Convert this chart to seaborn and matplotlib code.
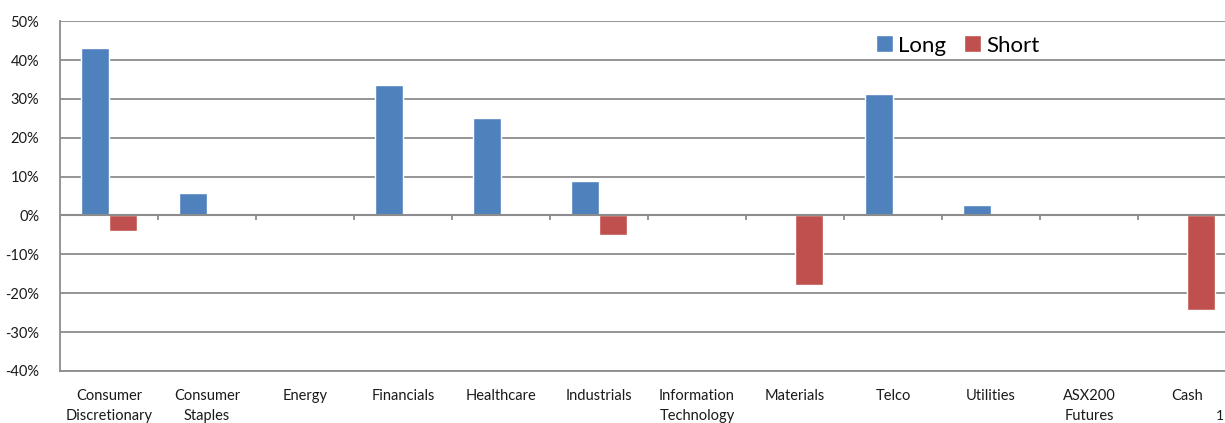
import matplotlib
matplotlib.use("Agg")
import matplotlib.pyplot as plt
import matplotlib.ticker as mticker
import pandas as pd
import seaborn as sns

sectors = ["Consumer\nDiscretionary", "Consumer\nStaples", "Energy", "Financials",
           "Healthcare", "Industrials", "Information\nTechnology", "Materials",
           "Telco", "Utilities", "ASX200\nFutures", "Cash"]
long_pct = [43.0, 5.7, 0.0, 33.5, 25.0, 8.8, 0.0, 0.0, 31.2, 2.6, 0.0, 0.0]
short_pct = [-3.9, 0.0, 0.0, 0.0, 0.0, -4.9, 0.0, -17.9, 0.0, 0.0, 0.0, -24.4]
y_ticks = [50, 40, 30, 20, 10, 0, -10, -20, -30, -40]

df = pd.DataFrame({
    "Sector": sectors * 2,
    "Exposure": long_pct + short_pct,
    "Side": ["Long"] * len(sectors) + ["Short"] * len(sectors),
})

sns.set_theme(style="white")
plt.rcParams["font.family"] = ["Lato", "DejaVu Sans"]

fig = plt.figure(figsize=(12.25, 4.23), dpi=100)
ax = fig.add_axes([0.049, 0.123, 0.960, 0.827])

sns.barplot(data=df, x="Sector", y="Exposure", hue="Side",
            palette={"Long": "#4F81BD", "Short": "#C0504D"},
            width=0.57, saturation=1, ax=ax, legend=True)

ax.set_ylim(-40, 50)
ax.set_xlim(-0.5, len(sectors) - 0.5)
ax.set_yticks(y_ticks)
ax.yaxis.set_major_formatter(mticker.FuncFormatter(lambda v, p: f"{v:.0f}%"))
ax.yaxis.grid(True, color="#8c8c8c", linewidth=1.3)
ax.xaxis.grid(False)
ax.set_axisbelow(True)
ax.set_xlabel("")
ax.set_ylabel("")

for side in ["top", "right"]:
    ax.spines[side].set_visible(False)
for side in ["left", "bottom"]:
    ax.spines[side].set_color("#8c8c8c")
    ax.spines[side].set_linewidth(1.3)

ax.tick_params(axis="y", length=0, pad=15, labelsize=10.5, labelcolor="#1a1a1a")
ax.tick_params(axis="x", length=0, pad=13, labelsize=10.5, labelcolor="#1a1a1a")
for lbl in ax.get_yticklabels():
    lbl.set_horizontalalignment("right")
for lbl in ax.get_xticklabels():
    lbl.set_linespacing(1.55)

# zero axis with category-boundary ticks
ax.axhline(0, color="#8c8c8c", linewidth=1.5, zorder=1)
ax.vlines([i - 0.5 for i in range(len(sectors) + 1)], -1.2, 0,
          color="#8c8c8c", linewidth=1.3, zorder=1)

leg = ax.legend(loc="upper left", bbox_to_anchor=(0.686, 0.985), ncol=2, frameon=False,
                fontsize=16, handlelength=0.8, handleheight=0.8,
                handletextpad=0.2, columnspacing=0.8, borderaxespad=0)
for t in leg.get_texts():
    t.set_color("black")

fig.text(0.999, 0.002, "1", fontsize=10, ha="right", va="bottom", color="#1a1a1a")

fig.savefig("out.png", dpi=100)
